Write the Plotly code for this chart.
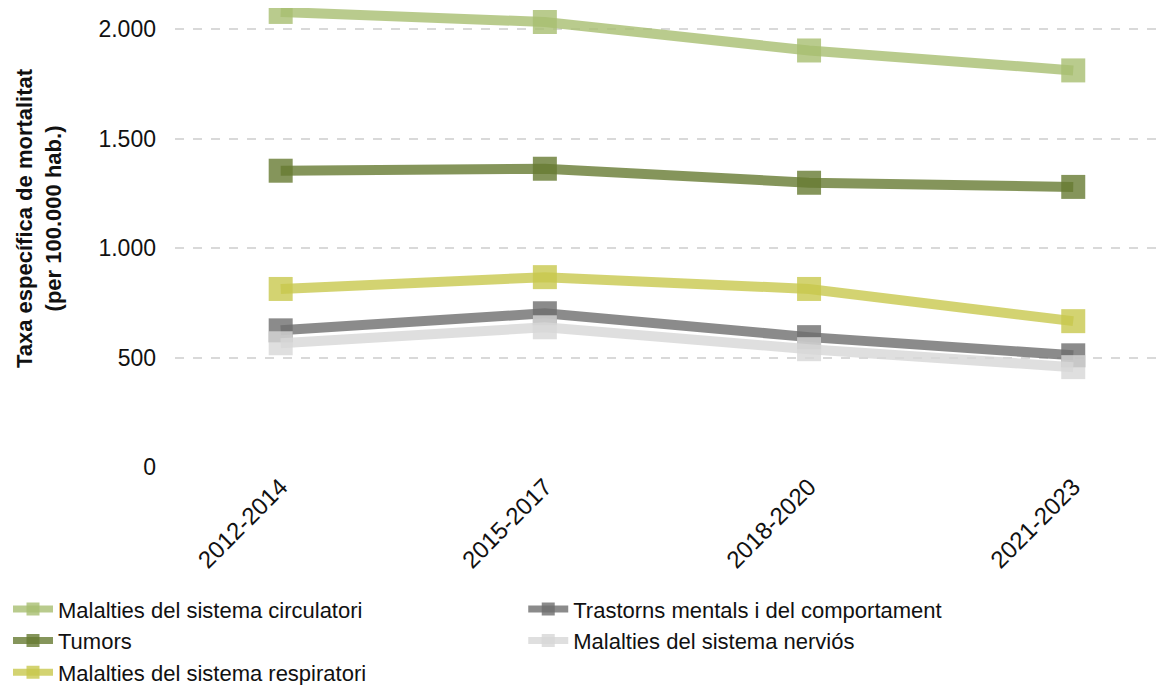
import plotly.graph_objects as go

periods = ["2012-2014", "2015-2017", "2018-2020", "2021-2023"]
series_names = [
    "Malalties del sistema circulatori",
    "Tumors",
    "Malalties del sistema respiratori",
    "Trastorns mentals i del comportament",
    "Malalties del sistema nerviós",
]
circulatori = [2078, 2032, 1902, 1811]
tumors = [1353, 1362, 1298, 1279]
respiratori = [813, 867, 813, 666]
trastorns = [624, 702, 593, 510]
nervios = [565, 638, 538, 456]
y_ticks = [0, 500, 1000, 1500, 2000]
y_title = "<b>Taxa específica de mortalitat<br>(per 100.000 hab.)</b>"

values = [circulatori, tumors, respiratori, trastorns, nervios]
colors = ["rgba(168,190,112,0.8)", "rgba(102,122,50,0.8)", "rgba(200,200,78,0.8)",
          "rgba(110,110,110,0.8)", "rgba(215,215,215,0.8)"]
legend_ids = ["legend", "legend", "legend", "legend2", "legend2"]

fig = go.Figure()
for name, vals, col in zip(series_names, values, colors):
    fig.add_trace(go.Scatter(
        x=periods, y=vals, name=name, mode="lines+markers",
        line=dict(color=col, width=10),
        marker=dict(symbol="square", size=24, color=col),
        cliponaxis=False, showlegend=False,
    ))
# legend entries (smaller symbols, as in the reference), two columns
for name, col, lg in zip(series_names, colors, legend_ids):
    fig.add_trace(go.Scatter(
        x=[None], y=[None], name=name, mode="lines+markers",
        line=dict(color=col, width=7),
        marker=dict(symbol="square", size=13, color=col),
        legend=lg, showlegend=True,
    ))

legend_style = dict(orientation="v", xref="container", yref="container",
                    xanchor="left", yanchor="top", y=0.153,
                    font=dict(size=22, color="#111111"), tracegroupgap=0,
                    itemwidth=40, bgcolor="rgba(0,0,0,0)")

fig.update_layout(
    width=1171, height=685,
    margin=dict(l=167, r=8, t=0, b=226, autoexpand=False),
    plot_bgcolor="white", paper_bgcolor="white",
    separators=",.",
    font=dict(family="Liberation Sans, Arial, sans-serif", size=22, color="#111111"),
    showlegend=True,
    legend=dict(x=0.0, **legend_style),
    legend2=dict(x=0.44, **legend_style),
    xaxis=dict(range=[-0.4, 3.37], showgrid=False, showline=False, zeroline=False,
               tickangle=-45, tickfont=dict(size=24), ticks=""),
    yaxis=dict(range=[0, 2096], tickvals=y_ticks, tickformat=",",
               showgrid=True, gridcolor="#d9d9d9", griddash="dash", gridwidth=1.5,
               zeroline=False, showline=False, ticks="", ticklabelstandoff=18,
               tickfont=dict(size=23, color="#111111")),
    annotations=[dict(text=y_title, xref="paper", yref="paper", x=-0.1365, y=0.5425,
                      xanchor="center", yanchor="middle", textangle=-90,
                      showarrow=False, font=dict(size=22, color="#111111"))],
)

fig.write_html("out.html")
